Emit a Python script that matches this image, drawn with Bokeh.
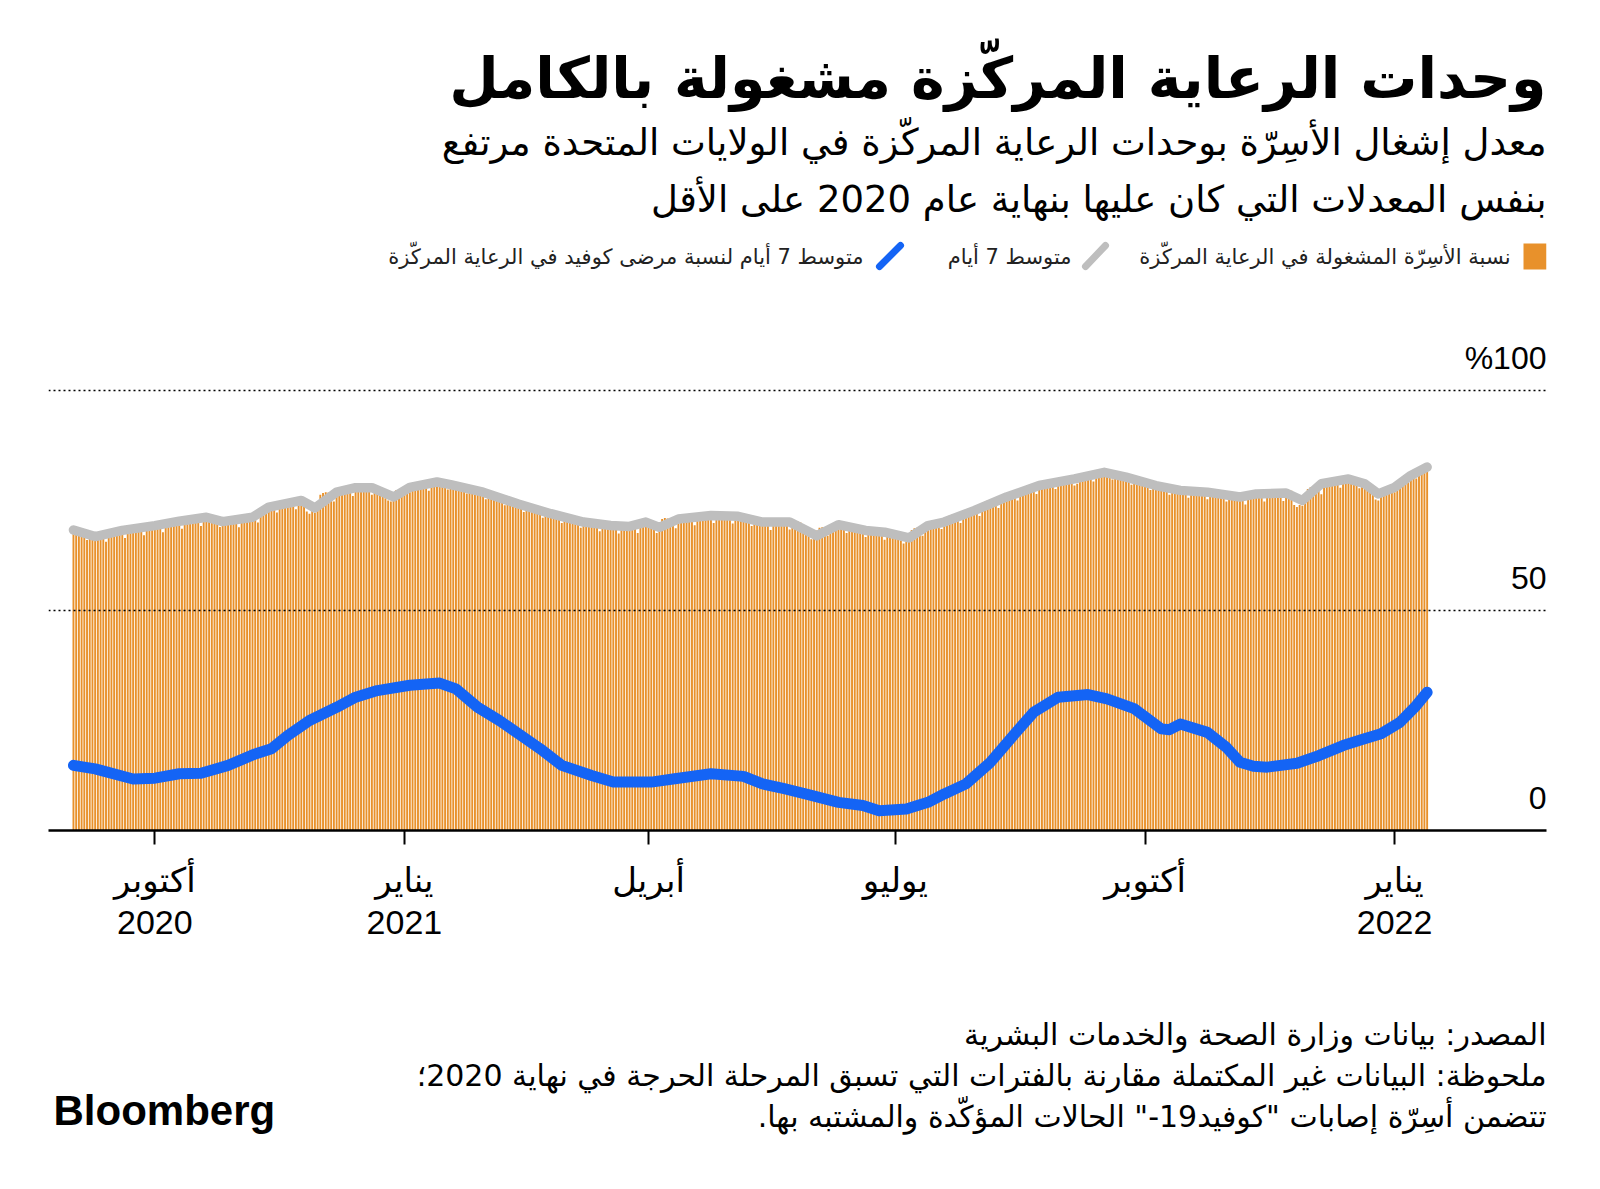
import pandas as pd
from bokeh.plotting import figure
from bokeh.models import Range1d, FixedTicker, Span, Label
from bokeh.layouts import column
from bokeh.core.properties import value
from bokeh.embed import file_html
from bokeh.resources import INLINE

# ---------------- data ----------------
START = "2020-09-01"
# daily ICU bed occupancy (%), one value per day from START
occupancy = [
    68.6, 68.4, 68.2, 68.0, 67.0, 66.0, 67.5,
    67.5, 67.6, 67.6, 67.5, 66.4, 65.6, 67.3,
    68.3, 68.4, 68.5, 68.4, 67.4, 66.5, 68.2,
    69.0, 69.1, 69.2, 69.1, 68.1, 67.1, 68.9,
    69.7, 69.9, 69.9, 69.8, 68.8, 67.8, 69.6,
    70.5, 70.7, 70.7, 70.6, 69.6, 68.6, 70.4,
    71.1, 71.3, 71.3, 71.2, 70.2, 69.2, 71.0,
    71.0, 71.2, 71.1, 71.0, 70.0, 69.0, 70.8,
    70.8, 71.0, 71.0, 70.9, 69.9, 68.9, 70.8,
    71.4, 71.7, 71.8, 71.9, 70.9, 70.0, 72.0,
    73.5, 73.9, 74.2, 74.3, 73.2, 72.3, 74.2,
    74.7, 75.0, 75.1, 75.0, 74.0, 73.0, 74.6,
    75.0, 75.2, 72.5, 72.0, 72.6, 72.2, 74.8,
    76.3, 76.7, 76.9, 76.8, 75.7, 74.8, 76.6,
    77.7, 78.0, 78.1, 78.0, 77.0, 76.0, 77.8,
    78.2, 78.4, 78.5, 78.4, 77.4, 76.3, 77.8,
    77.6, 77.4, 77.0, 75.5, 75.0, 74.8, 76.5,
    77.4, 77.6, 76.8, 76.4, 76.6, 76.9, 78.3,
    78.9, 79.1, 79.2, 79.1, 78.1, 77.2, 78.9,
    79.3, 79.5, 79.6, 79.5, 78.5, 77.5, 79.1,
    78.6, 78.8, 78.8, 78.6, 77.6, 76.6, 78.2,
    77.4, 77.5, 77.4, 77.2, 76.2, 75.3, 76.9,
    76.1, 76.2, 76.1, 75.9, 74.9, 73.9, 75.5,
    74.6, 74.7, 74.6, 74.4, 73.4, 72.4, 74.0,
    73.3, 73.4, 73.3, 73.1, 72.1, 71.1, 72.7,
    72.1, 72.2, 72.1, 71.9, 70.9, 69.9, 71.5,
    71.0, 71.1, 71.0, 70.8, 69.8, 68.8, 70.4,
    70.2, 70.3, 70.2, 70.0, 69.0, 68.0, 69.6,
    69.7, 69.8, 69.7, 69.5, 68.5, 67.5, 69.2,
    69.7, 69.8, 69.7, 69.6, 68.6, 67.6, 69.3,
    70.3, 70.4, 70.2, 69.9, 68.8, 67.6, 68.4,
    70.8, 71.0, 70.9, 70.7, 69.6, 68.7, 70.5,
    71.6, 71.7, 71.6, 71.4, 70.4, 69.4, 71.1,
    72.0, 72.1, 72.1, 71.9, 70.9, 69.9, 71.6,
    71.9, 72.0, 72.0, 71.8, 70.8, 69.8, 71.4,
    71.4, 71.5, 71.4, 71.2, 70.2, 69.2, 70.8,
    70.5, 70.6, 70.5, 70.3, 69.3, 68.3, 70.1,
    70.5, 70.6, 70.6, 70.4, 69.4, 68.4, 70.0,
    70.2, 70.2, 70.0, 69.6, 68.3, 67.0, 66.2,
    67.0, 68.2, 68.8, 68.9, 67.9, 67.0, 68.7,
    69.8, 69.9, 69.8, 69.6, 68.6, 67.6, 69.2,
    68.9, 69.0, 68.9, 68.7, 67.7, 66.7, 68.3,
    68.3, 68.4, 68.3, 68.1, 67.1, 66.1, 67.8,
    68.0, 68.1, 67.4, 66.9, 65.9, 65.2, 65.6,
    67.3, 68.3, 68.7, 68.8, 67.8, 67.0, 69.0,
    69.9, 70.2, 70.4, 70.4, 69.4, 68.5, 70.5,
    71.3, 71.6, 71.8, 71.8, 70.8, 69.9, 71.8,
    72.9, 73.2, 73.4, 73.4, 72.4, 71.5, 73.4,
    74.7, 75.0, 75.2, 75.2, 74.2, 73.3, 75.2,
    76.4, 76.7, 76.9, 76.9, 75.9, 75.0, 76.9,
    78.0, 78.3, 78.4, 78.4, 77.4, 76.5, 78.3,
    79.1, 79.4, 79.5, 79.5, 78.5, 77.6, 79.3,
    80.0, 80.2, 80.3, 80.3, 79.3, 78.4, 78.8,
    80.6, 81.1, 81.2, 81.2, 80.2, 79.3, 81.0,
    81.5, 81.7, 81.8, 81.7, 80.7, 79.8, 81.3,
    80.7, 80.8, 80.8, 80.6, 79.6, 78.6, 80.2,
    79.5, 79.6, 79.6, 79.4, 78.4, 77.4, 79.0,
    78.4, 78.5, 78.5, 78.3, 77.3, 76.3, 77.9,
    77.7, 77.8, 77.8, 77.6, 76.6, 75.6, 77.2,
    77.4, 77.5, 77.5, 77.3, 76.3, 75.3, 76.9,
    76.9, 77.0, 77.0, 76.8, 75.8, 74.8, 76.4,
    76.2, 76.3, 76.3, 76.1, 75.1, 74.1, 75.8,
    76.9, 77.0, 77.0, 76.8, 75.8, 74.8, 76.5,
    77.0, 77.1, 77.1, 76.9, 75.9, 74.9, 76.6,
    77.2, 77.2, 74.0, 73.5, 74.0, 73.8, 76.0,
    77.6, 78.0, 78.2, 78.3, 77.3, 76.4, 78.6,
    79.6, 79.8, 79.9, 79.8, 78.8, 77.9, 79.5,
    80.0, 80.1, 80.0, 79.8, 78.8, 77.8, 79.3,
    79.0, 78.5, 77.4, 76.3, 75.2, 75.0, 76.8,
    77.8, 78.2, 78.0, 77.2, 76.9, 77.6, 79.4,
    80.0, 80.6, 81.0, 81.2, 80.5, 80.0, 81.8,
    82.3, 82.6, 82.8,
]

# 7-day average of occupancy (day offset from START, %)
avg_day = [0, 8, 18, 30, 39, 49, 55, 66, 72, 84, 89, 97, 104, 110, 118, 124, 134, 139, 151, 164,
           176, 188, 198, 205, 211, 216, 223, 235, 245, 254, 264, 274, 282, 292, 299, 308, 315, 321, 332, 344,
           356, 369, 380, 388, 399, 408, 418, 430, 436, 447, 453, 460, 470, 476, 481, 487, 493, 499]
avg_val = [68.3, 66.8, 68.2, 69.3, 70.3, 71.2, 70.2, 71.2, 73.5, 75.0, 73.3, 76.9, 77.9, 77.9, 75.8, 78.0, 79.2, 78.6, 76.9, 74.2,
           72.0, 70.1, 69.3, 69.1, 70.1, 68.9, 70.8, 71.6, 71.4, 70.1, 70.1, 67.0, 69.5, 68.2, 67.8, 66.5, 69.3, 70.1, 72.7, 75.8,
           78.4, 79.9, 81.4, 80.3, 78.4, 77.3, 76.9, 75.8, 76.5, 76.7, 75.0, 78.8, 79.9, 78.8, 76.5, 78.0, 80.7, 82.6]

# 7-day average share of ICU patients with Covid (day offset from START, %)
covid_day = [0, 8, 22, 30, 39, 47, 57, 67, 73, 79, 87, 97, 104, 112, 124, 135, 141, 149, 157, 165,
             172, 180, 191, 199, 213, 221, 235, 247, 254, 262, 272, 282, 291, 297, 307, 315, 321, 329, 338, 347,
             354, 363, 374, 381, 391, 401, 404, 408, 418, 425, 430, 435, 440, 451, 459, 468, 475, 482, 489, 495, 499]
covid_val = [14.8, 14.0, 11.7, 11.9, 12.9, 13.0, 14.8, 17.4, 18.6, 21.6, 25.0, 28.0, 30.3, 31.8, 33.0, 33.5, 32.2, 28.0, 25.0, 21.6,
             18.6, 14.8, 12.5, 11.0, 11.0, 11.7, 12.9, 12.3, 10.6, 9.5, 8.0, 6.4, 5.7, 4.5, 4.9, 6.4, 8.3, 10.6, 15.5, 22.0,
             26.9, 30.3, 30.9, 29.9, 27.7, 23.1, 22.9, 24.2, 22.3, 18.9, 15.5, 14.6, 14.4, 15.3, 17.0, 19.3, 20.7, 22.0, 24.6, 28.4, 31.4]

tick_dates = ["2020-10-01", "2021-01-01", "2021-04-01", "2021-07-01", "2021-10-01", "2022-01-01"]
tick_labels = ["أكتوبر\n2020", "يناير\n2021", "أبريل", "يوليو", "أكتوبر", "يناير\n2022"]
y_levels = [100, 50, 0]
y_labels = ["%100", "50", "0"]

title = "وحدات الرعاية المركّزة مشغولة بالكامل"
subtitle_1 = "معدل إشغال الأسِرّة بوحدات الرعاية المركّزة في الولايات المتحدة مرتفع"
subtitle_2 = "بنفس المعدلات التي كان عليها بنهاية عام 2020 على الأقل"
legend_1 = "نسبة الأسِرّة المشغولة في الرعاية المركّزة"
legend_2 = "متوسط 7 أيام"
legend_3 = "متوسط 7 أيام لنسبة مرضى كوفيد في الرعاية المركّزة"
source_1 = "المصدر: بيانات وزارة الصحة والخدمات البشرية"
source_2 = "ملحوظة: البيانات غير المكتملة مقارنة بالفترات التي تسبق المرحلة الحرجة في نهاية 2020؛"
source_3 = "تتضمن أسِرّة إصابات \"كوفيد19-\" الحالات المؤكّدة والمشتبه بها.\u200f"

# ---------------- style ----------------
ORANGE = "#E8912B"
GRAY = "#BEBEBE"
BLUE = "#1464F5"
AR_FONT = "DejaVu Sans"
NUM_FONT = "Liberation Sans, DejaVu Sans"
W = 1600
LEFT, RIGHT = 48, 1546          # plot frame edges (page px)
HDR_H, CHART_H, FTR_H = 298, 662, 228

start = pd.Timestamp(START)
dates = pd.date_range(START, periods=len(occupancy), freq="D")
avg_dates = start + pd.to_timedelta(avg_day, unit="D")
covid_dates = start + pd.to_timedelta(covid_day, unit="D")
DAY_MS = 86400000


def blank(height, y0):
    # page-coordinate canvas: x in page px, y in page px (downwards)
    f = figure(width=W, height=height, x_range=Range1d(LEFT, RIGHT), y_range=Range1d(y0 + height, y0),
               min_border_left=LEFT, min_border_right=W - RIGHT, min_border_top=0, min_border_bottom=0,
               x_axis_location=None, y_axis_location=None,
               output_backend="svg", toolbar_location=None)
    f.grid.visible = False
    f.outline_line_color = None
    f.background_fill_color = "white"
    f.border_fill_color = "white"
    return f


# ---------------- header ----------------
hdr = blank(HDR_H, 0)
hdr.text(x=[RIGHT], y=[77], text=[title], text_align="right", text_baseline="middle",
         text_font=value(AR_FONT), text_font_size="57px", text_font_style="bold", text_color="black")
hdr.text(x=[RIGHT, RIGHT], y=[142, 199], text=[subtitle_1, subtitle_2], text_align="right",
         text_baseline="middle", text_font=value(AR_FONT), text_font_size="37px", text_color="black")
hdr.text(x=[1510, 1071, 863], y=[256, 256, 256], text=[legend_1, legend_2, legend_3], text_align="right",
         text_baseline="middle", text_font=value(AR_FONT), text_font_size="21px", text_color="#222222")
hdr.quad(left=[1523], right=[RIGHT], top=[243], bottom=[269], fill_color=ORANGE, line_color=None)
hdr.segment(x0=[1085], y0=[266], x1=[1105], y1=[245], line_width=7, line_color=GRAY, line_cap="round")
hdr.segment(x0=[879], y0=[266], x1=[900], y1=[245], line_width=7, line_color=BLUE, line_cap="round")

# ---------------- chart ----------------
x_start = start - pd.Timedelta(days=9.2)
x_end = start + pd.Timedelta(days=543.0)
p = figure(width=W, height=CHART_H, x_axis_type="datetime", x_range=Range1d(x_start, x_end),
           y_range=Range1d(0, 115), min_border_left=LEFT, min_border_right=W - RIGHT, min_border_top=26,
           min_border_bottom=130, y_axis_location=None, output_backend="svg", toolbar_location=None)
p.grid.visible = False
p.outline_line_color = None
p.background_fill_color = "white"
p.border_fill_color = "white"

p.vbar(x=dates, top=occupancy, width=0.7 * DAY_MS, fill_color=ORANGE, line_color=None)
p.line(avg_dates, avg_val, line_width=9.5, line_color=GRAY, line_cap="round", line_join="round")
p.line(covid_dates, covid_val, line_width=11, line_color=BLUE, line_cap="round", line_join="round")

for lvl in y_levels[:2]:
    p.add_layout(Span(location=lvl, dimension="width", line_color="black", line_width=1.5, line_dash="2 3"))
for lvl, lab in zip(y_levels, y_labels):
    p.add_layout(Label(x=RIGHT - LEFT, x_units="screen", y=lvl, y_units="data", y_offset=33, text=lab,
                       text_align="right", text_baseline="middle", text_font=NUM_FONT,
                       text_font_size="32px", text_color="black"))

tick_ms = [int(pd.Timestamp(d).value // 10**6) for d in tick_dates]
ax = p.xaxis[0]
ax.ticker = FixedTicker(ticks=tick_ms)
ax.major_label_overrides = {t: lab for t, lab in zip(tick_ms, tick_labels)}
ax.axis_line_color = "black"
ax.axis_line_width = 2.5
ax.major_tick_line_color = "black"
ax.major_tick_line_width = 2
ax.major_tick_out = 14
ax.major_tick_in = 0
ax.minor_tick_line_color = None
ax.major_label_standoff = 16
ax.major_label_text_font = NUM_FONT
ax.major_label_text_font_size = "34px"
ax.major_label_text_color = "black"
ax.major_label_text_line_height = 1.12

# ---------------- footer ----------------
y0 = HDR_H + CHART_H
ftr = blank(FTR_H, y0)
ftr.text(x=[RIGHT, RIGHT, RIGHT], y=[1034, 1075, 1116], text=[source_1, source_2, source_3], text_align="right",
         text_baseline="middle", text_font=value(AR_FONT), text_font_size="30px", text_color="black")
ftr.text(x=[53], y=[1110], text=["Bloomberg"], text_align="left", text_baseline="middle",
         text_font=value("Liberation Sans"), text_font_size="42px", text_font_style="bold", text_color="black")

layout = column(hdr, p, ftr, spacing=0)
open("out.html", "w").write(file_html(layout, INLINE))
